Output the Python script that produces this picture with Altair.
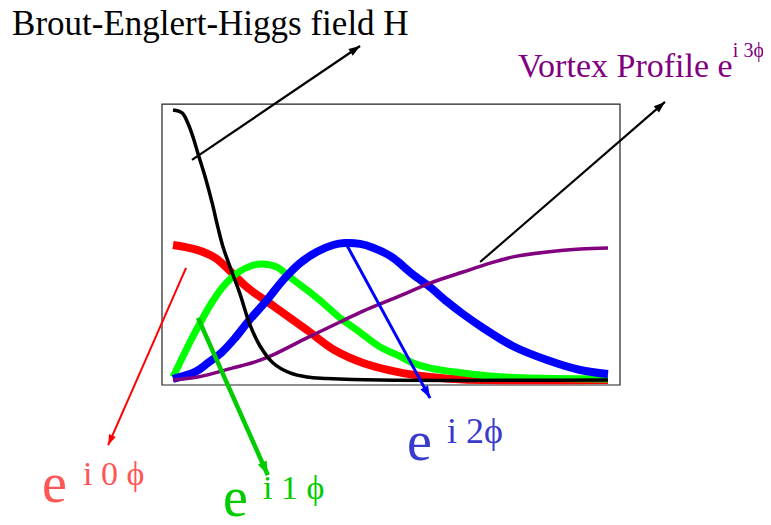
import math
import altair as alt
import pandas as pd

# ---- curve data (radius r, field value) ----
r_h = [0, 0.21, 0.34, 0.46, 0.57, 0.74, 0.90, 1.03, 1.15, 1.38, 1.54, 1.77, 2.0, 2.30, 2.69, 3.08, 3.54, 4.76, 10]
v_h = [1.0, 0.989, 0.952, 0.900, 0.841, 0.752, 0.656, 0.567, 0.493, 0.389, 0.319, 0.204, 0.126, 0.063, 0.026, 0.011, 0.006, 0.0, 0.0]

r_0 = [0, 0.57, 0.97, 1.36, 1.72, 2.30, 3.08, 3.72, 4.37, 5.15, 5.91, 6.67, 10]
v_0 = [0.50, 0.481, 0.452, 0.396, 0.341, 0.275, 0.185, 0.110, 0.063, 0.030, 0.011, 0.002, 0.0]

r_1 = [0, 0.21, 0.44, 0.67, 0.90, 1.20, 1.49, 1.82, 2.05, 2.39, 2.69, 3.08, 3.45, 3.84, 4.23, 4.76, 5.15, 5.52, 5.91, 6.67, 7.29, 8.0, 10]
v_1 = [0.011, 0.081, 0.156, 0.225, 0.289, 0.355, 0.398, 0.424, 0.430, 0.418, 0.381, 0.333, 0.285, 0.230, 0.185, 0.122, 0.093, 0.063, 0.044, 0.026, 0.015, 0.008, 0.004]

r_2 = [0, 0.51, 0.80, 1.13, 1.43, 1.72, 2.16, 2.53, 2.92, 3.31, 3.68, 3.95, 4.30, 4.60, 4.99, 5.15, 5.52, 5.91, 6.30, 6.67, 7.10, 7.82, 8.60, 9.36, 10]
v_2 = [0.004, 0.030, 0.063, 0.104, 0.156, 0.215, 0.296, 0.370, 0.433, 0.475, 0.500, 0.507, 0.504, 0.490, 0.460, 0.441, 0.390, 0.344, 0.290, 0.244, 0.196, 0.125, 0.074, 0.037, 0.022]

r_3 = [0, 0.57, 1.36, 1.89, 2.30, 3.08, 3.84, 4.37, 5.15, 5.91, 6.67, 7.29, 7.82, 8.60, 9.36, 10]
v_3 = [0.0, 0.011, 0.044, 0.067, 0.093, 0.156, 0.215, 0.255, 0.307, 0.359, 0.400, 0.433, 0.456, 0.474, 0.485, 0.489]

series_names = ["e0", "e1", "e2", "e3", "H"]          # drawing order bottom -> top
series_colors = ["#ff0000", "#00ff00", "#0000ff", "#800080", "#000000"]
series_widths = [8, 7, 8, 3.5, 3.5]
series_r = [r_0, r_1, r_2, r_3, r_h]
series_v = [v_0, v_1, v_2, v_3, v_h]

# ---- frame box (data units) ----
box_x = [-0.253]
box_x2 = [10.276]
box_y = [-0.0185]
box_y2 = [1.022]

# ---- annotation arrows (data units) ----
arr_x = [0.437, 7.06, 0.30, 0.575, 3.93]
arr_y = [0.815, 0.437, 0.415, 0.23, 0.519]
arr_x2 = [4.30, 11.31, -1.49, 2.18, 5.91]
arr_y2 = [1.237, 1.030, -0.241, -0.352, -0.067]
arr_colors = ["#000000", "#000000", "#ff0000", "#00cc00", "#0000ff"]
arr_widths = [2.2, 2.2, 2.0, 4.5, 3.0]
arr_head = [130, 130, 110, 190, 150]

# ---- labels ----
lab_text = ["Brout-Englert-Higgs field H", "Vortex Profile e", "i 3\u03d5",
            "e", "i 0 \u03d5", "e", "i 1 \u03d5", "e", "i 2\u03d5"]
lab_x = [-3.70, 7.93, 12.87, -3.01, -2.07, 1.15, 2.07, 5.38, 6.30]
lab_y = [1.278, 1.122, 1.196, -0.452, -0.389, -0.504, -0.441, -0.296, -0.233]
lab_size = [35, 34, 20, 56, 34, 56, 34, 56, 36]
lab_color = ["#000000", "#800080", "#800080", "#ff5555", "#ff5555",
             "#00cc00", "#00cc00", "#3a3acc", "#3a3acc"]

W, H = 755, 509
PX_X, PX_Y = 43.5, 270.0          # pixels per data unit
XD = [-3.793, -3.793 + W / PX_X]
YD = [1.3778 - H / PX_Y, 1.3778]

xs = alt.Scale(domain=XD, nice=False, zero=False)
ys = alt.Scale(domain=YD, nice=False, zero=False)

rows = []
for i, (n, rr, vv) in enumerate(zip(series_names, series_r, series_v)):
    for a, b in zip(rr, vv):
        rows.append({"series": n, "r": a, "v": b})
curves = pd.DataFrame(rows)

layers = []
box = pd.DataFrame({"x": box_x, "x2": box_x2, "y": box_y, "y2": box_y2})
layers.append(alt.Chart(box).mark_rect(fill=None, stroke="#222222", strokeWidth=1.2).encode(
    x=alt.X("x:Q", scale=xs, axis=None), x2="x2:Q",
    y=alt.Y("y:Q", scale=ys, axis=None), y2="y2:Q"))

for i, n in enumerate(series_names):
    d = curves[curves.series == n]
    layers.append(alt.Chart(d).mark_line(interpolate="catmull-rom", color=series_colors[i],
                                         strokeWidth=series_widths[i]).encode(
        x=alt.X("r:Q", scale=xs, axis=None), y=alt.Y("v:Q", scale=ys, axis=None)))

angles = []
for x1, y1, x2, y2 in zip(arr_x, arr_y, arr_x2, arr_y2):
    dx = (x2 - x1) * PX_X
    dy = -(y2 - y1) * PX_Y
    angles.append((math.degrees(math.atan2(dx, -dy)) + 360) % 360)
arrows = pd.DataFrame({"x": arr_x, "y": arr_y, "x2": arr_x2, "y2": arr_y2,
                       "color": arr_colors, "w": arr_widths, "head": arr_head, "ang": angles})
layers.append(alt.Chart(arrows).mark_rule().encode(
    x=alt.X("x:Q", scale=xs, axis=None), y=alt.Y("y:Q", scale=ys, axis=None),
    x2="x2:Q", y2="y2:Q",
    color=alt.Color("color:N", scale=None),
    strokeWidth=alt.StrokeWidth("w:Q", scale=None)))
layers.append(alt.Chart(arrows).mark_point(shape="M0,0L-0.7,2L0.7,2Z", filled=True, opacity=1).encode(
    x=alt.X("x2:Q", scale=xs, axis=None), y=alt.Y("y2:Q", scale=ys, axis=None),
    color=alt.Color("color:N", scale=None),
    size=alt.Size("head:Q", scale=None),
    angle=alt.Angle("ang:Q", scale=None)))

labels = pd.DataFrame({"t": lab_text, "x": lab_x, "y": lab_y, "s": lab_size, "c": lab_color})
layers.append(alt.Chart(labels).mark_text(align="left", baseline="alphabetic",
                                          font="Liberation Serif, Times New Roman, serif").encode(
    x=alt.X("x:Q", scale=xs, axis=None), y=alt.Y("y:Q", scale=ys, axis=None),
    text="t:N", size=alt.Size("s:Q", scale=None), color=alt.Color("c:N", scale=None)))

chart = alt.layer(*layers).properties(
    width=W, height=H, padding=0, autosize=alt.AutoSizeParams(type="none")
).configure_view(stroke=None)

chart.save("out.html", embed_options={"renderer": "svg", "actions": False})
